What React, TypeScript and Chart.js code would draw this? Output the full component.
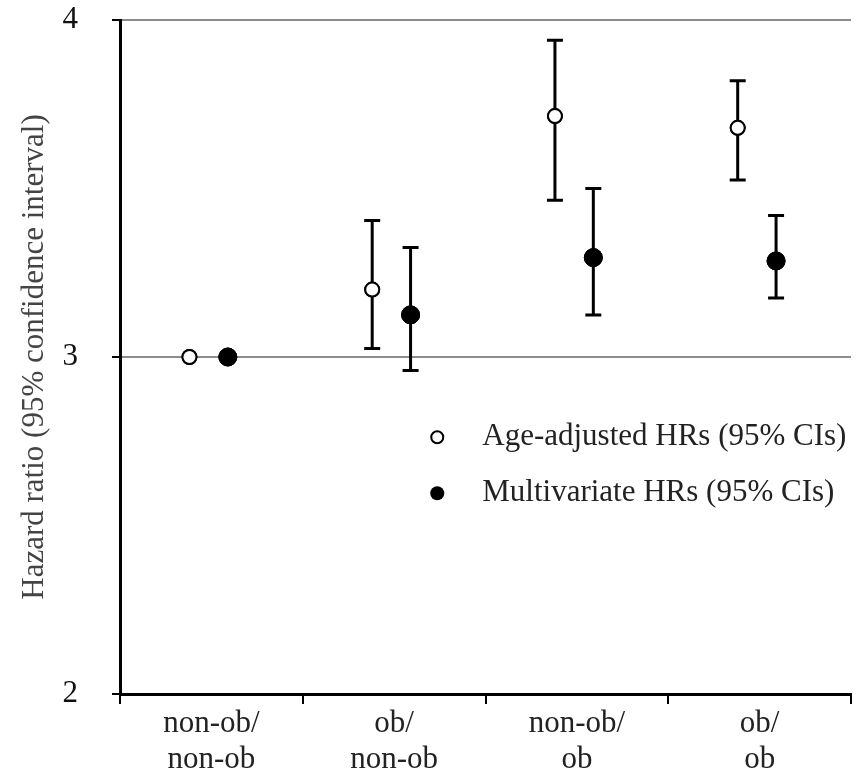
import React, { useEffect, useRef } from "react";
import { Chart, registerables } from "chart.js";

Chart.register(...registerables);

const categories: string[][] = [
  ["non-ob/", "non-ob"],
  ["ob/", "non-ob"],
  ["non-ob/", "ob"],
  ["ob/", "ob"],
];
const ageLabel = "Age-adjusted HRs (95% CIs)";
const multiLabel = "Multivariate HRs (95% CIs)";
const ageHR = [3.0, 3.2, 3.715, 3.68];
const ageLow: (number | null)[] = [null, 3.025, 3.465, 3.525];
const ageHigh: (number | null)[] = [null, 3.405, 3.94, 3.82];
const multiHR = [3.0, 3.125, 3.295, 3.285];
const multiLow: (number | null)[] = [null, 2.96, 3.125, 3.175];
const multiHigh: (number | null)[] = [null, 3.325, 3.5, 3.42];
const yMin = 2;
const yMax = 4;
const yStep = 1;

const FONT = "'Liberation Serif', 'DejaVu Serif', serif";
const FS = 31;

const errorBarPlugin = {
  id: "errorBars",
  afterDatasetsDraw(chart: any) {
    const { ctx } = chart;
    const ys = chart.scales.y;
    chart.data.datasets.forEach((ds: any, di: number) => {
      const meta = chart.getDatasetMeta(di);
      ds.data.forEach((pt: any, i: number) => {
        if (pt.low == null || pt.high == null) return;
        const el = meta.data[i];
        const x = el.x;
        const y1 = ys.getPixelForValue(pt.low);
        const y2 = ys.getPixelForValue(pt.high);
        const cap = 8;
        ctx.save();
        ctx.strokeStyle = "#000";
        ctx.lineWidth = 3;
        ctx.beginPath();
        ctx.moveTo(x, y1);
        ctx.lineTo(x, y2);
        ctx.moveTo(x - cap, y1);
        ctx.lineTo(x + cap, y1);
        ctx.moveTo(x - cap, y2);
        ctx.lineTo(x + cap, y2);
        ctx.stroke();
        ctx.restore();
      });
      meta.data.forEach((el: any) => el.draw(ctx, chart.chartArea));
    });
  },
};

const legendPlugin = {
  id: "innerLegend",
  afterDraw(chart: any) {
    const { ctx, chartArea } = chart;
    const w = chartArea.right - chartArea.left;
    const h = chartArea.bottom - chartArea.top;
    const x0 = chartArea.left + w * 0.434;
    const y0 = chartArea.top + h * 0.619;
    const gap = 56;
    chart.data.datasets.forEach((ds: any, i: number) => {
      const y = y0 + i * gap;
      ctx.save();
      ctx.beginPath();
      ctx.arc(x0, y, i === 0 ? 6 : 7, 0, Math.PI * 2);
      if (i === 0) {
        ctx.fillStyle = "#fff";
        ctx.fill();
        ctx.lineWidth = 2;
        ctx.strokeStyle = "#000";
        ctx.stroke();
      } else {
        ctx.fillStyle = "#000";
        ctx.fill();
      }
      ctx.fillStyle = "#222";
      ctx.font = `${FS}px ${FONT}`;
      ctx.textBaseline = "middle";
      ctx.textAlign = "left";
      ctx.fillText(ds.label, x0 + 45, y);
      ctx.restore();
    });
  },
};

export default function App() {
  const ref = useRef<HTMLCanvasElement | null>(null);

  useEffect(() => {
    document.body.style.margin = "0";
    const ageData = ageHR.map((v, i) => ({ x: i + 0.5 - 0.12, y: v, low: ageLow[i], high: ageHigh[i] }));
    const multiData = multiHR.map((v, i) => ({ x: i + 0.5 + 0.09, y: v, low: multiLow[i], high: multiHigh[i] }));
    const chart = new Chart(ref.current!, {
      type: "scatter",
      data: {
        datasets: [
          {
            label: ageLabel,
            data: ageData as any,
            pointRadius: 7,
            pointBackgroundColor: "#fff",
            pointBorderColor: "#000",
            pointBorderWidth: 2,
          },
          {
            label: multiLabel,
            data: multiData as any,
            pointRadius: 9,
            pointBackgroundColor: "#000",
            pointBorderColor: "#000",
            pointBorderWidth: 1,
          },
        ],
      },
      options: {
        animation: false,
        responsive: false,
        layout: { padding: { top: 20, right: 14, left: 0, bottom: 0 } },
        plugins: { legend: { display: false }, tooltip: { enabled: false } },
        scales: {
          x: {
            type: "linear",
            min: 0,
            max: categories.length,
            afterBuildTicks(scale: any) {
              const t: any[] = [];
              for (let v = 0; v <= categories.length; v += 0.5) t.push({ value: v });
              scale.ticks = t;
            },
            afterFit(scale: any) {
              scale.height = 83;
              scale.paddingLeft = 0;
              scale.paddingRight = 0;
            },
            ticks: {
              autoSkip: false,
              maxRotation: 0,
              padding: 2,
              color: "#222",
              font: { family: FONT, size: FS, lineHeight: 1.16 },
              callback: (value: any) => {
                const v = Number(value);
                if (v % 1 === 0.5) return categories[Math.floor(v)];
                return "";
              },
            },
            grid: {
              drawOnChartArea: false,
              drawTicks: true,
              tickLength: 10,
              lineWidth: 2,
              color: (c: any) => (c.tick && c.tick.value % 1 === 0 ? "#000" : "rgba(0,0,0,0)"),
            },
            border: { display: true, color: "#000", width: 3 },
          },
          y: {
            type: "linear",
            min: yMin,
            max: yMax,
            afterFit(scale: any) {
              scale.width = 120;
              scale.paddingTop = 0;
              scale.paddingBottom = 0;
            },
            ticks: {
              stepSize: yStep,
              color: "#111",
              padding: 34,
              font: { family: FONT, size: FS },
            },
            grid: {
              drawTicks: true,
              tickLength: 8,
              lineWidth: 2,
              tickColor: "#000",
              color: (c: any) => (c.tick && c.tick.value === yMin ? "rgba(0,0,0,0)" : "#8c8c8c"),
            },
            border: { display: true, color: "#000", width: 3 },
            title: {
              display: true,
              text: "Hazard ratio (95% confidence interval)",
              color: "#444",
              font: { family: FONT, size: FS },
              padding: { top: 16, bottom: 0 },
            },
          },
        },
      },
      plugins: [errorBarPlugin, legendPlugin],
    });
    return () => chart.destroy();
  }, []);

  return (
    <div style={{ width: 865, height: 777 }}>
      <canvas ref={ref} width={865} height={777} style={{ display: "block" }} />
    </div>
  );
}
